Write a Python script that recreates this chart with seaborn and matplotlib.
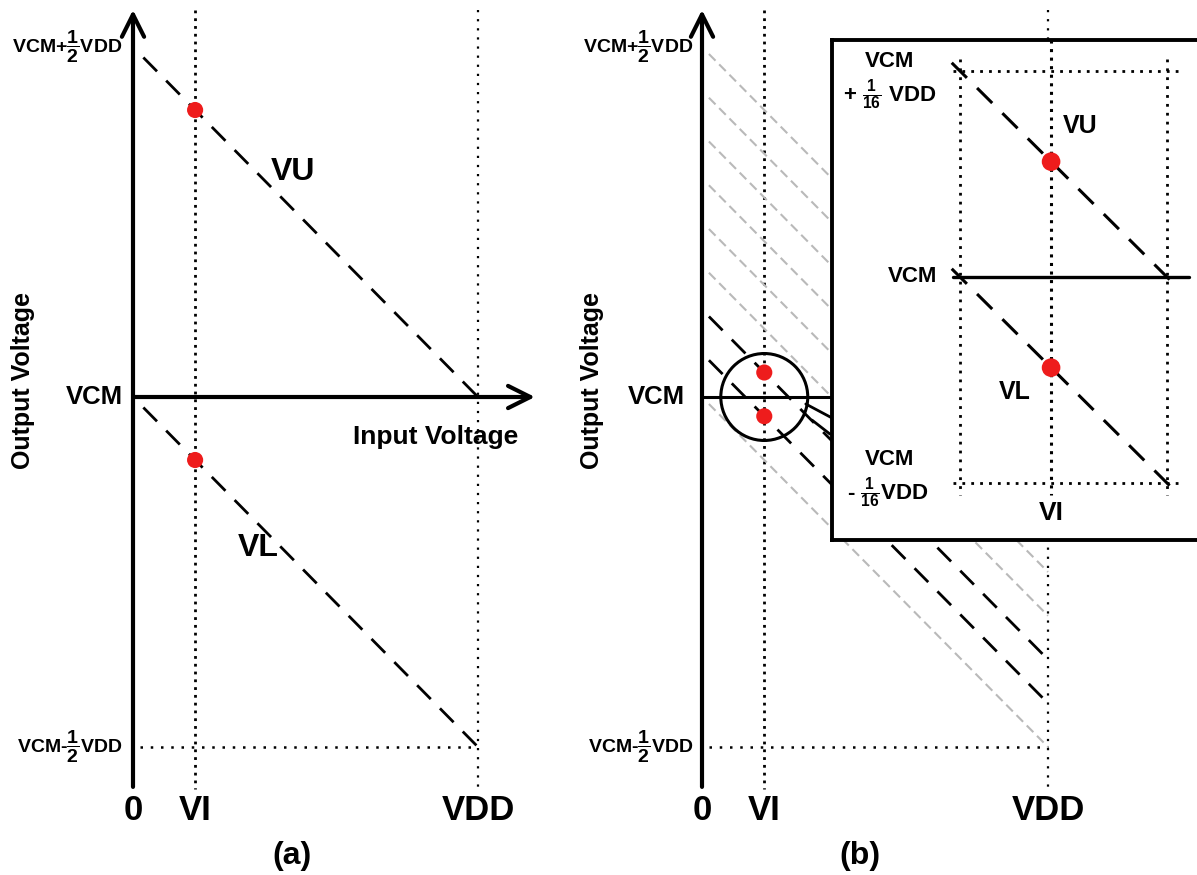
import matplotlib
matplotlib.use("Agg")
import matplotlib.pyplot as plt
import pandas as pd
import seaborn as sns

# output voltage is measured from VCM, both axes in units of VDD
VDD = 1.0
VI = 0.18
SLOPE = -0.5
HALF = 0.5

# panel (a): the two transfer lines
ab_names = ["VU", "VL"]
ab_offsets = [0.5, 0.0]

# panel (b): family of lines 1/16 VDD apart, two of them highlighted
grey_offsets = [0.5, 0.4375, 0.375, 0.3125, 0.25, 0.1875, 0.0]
zoom_offsets = [0.125, 0.0625]
zoom_names = ["VU", "VL"]

# zoomed window shown in the inset
zoom_x = [0.125, 0.25]
zoom_y = [-0.0625, 0.0625]

tick_pos = [0.0, VI, VDD]
tick_labels = ["0", "VI", "VDD"]

PX_W, PX_H = 1197, 875
VCM_PX, SY = 397, 700.0
RED = "#ee1c1c"
GREY = "#b9b9b9"
DOT_DENSE = (0, (1, 1.8))
DOT_SPARSE = (0, (1, 3.1))
DOT_BOX = (0, (1, 2.2))
DASH = (0, (7, 4.7))
DASH_GREY = (0, (4.5, 2.5))

sns.set_theme(style="white")
plt.rcParams["font.family"] = ["Liberation Sans", "DejaVu Sans"]
plt.rcParams["font.weight"] = "bold"
plt.rcParams["text.color"] = "black"
plt.rcParams["mathtext.fontset"] = "custom"
for k in ["rm", "it", "bf", "sf"]:
    plt.rcParams["mathtext." + k] = "Liberation Sans:bold"

fig = plt.figure(figsize=(PX_W / 100, PX_H / 100), dpi=100)


def line_frame(offsets, x0, x1):
    rows = []
    for i, off in enumerate(offsets):
        for x in (x0, x1):
            rows.append({"line": i, "x": x, "y": off + SLOPE * x})
    return pd.DataFrame(rows)


def panel_axes(left_px, right_px, x0_px, xvdd_px):
    ax = fig.add_axes([left_px / PX_W, 0, (right_px - left_px) / PX_W, 1])
    sx = xvdd_px - x0_px
    ax.set_xlim((left_px - x0_px) / sx, (right_px - x0_px) / sx)
    ax.set_ylim(-(PX_H - VCM_PX) / SY, VCM_PX / SY)
    ax.axis("off")
    return ax


def arrow(ax, start, end):
    ax.annotate("", xy=end, xytext=start,
                arrowprops=dict(arrowstyle="->", lw=3, color="black",
                                mutation_scale=40, shrinkA=0, shrinkB=0))


def common(ax, tag, tag_x, vcm_x, ylab_x, small_x):
    top, bottom = 0.553, -0.557
    arrow(ax, (0, bottom), (0, top))
    ax.plot([VI, VI], [top, -0.56], color="black", lw=2.0, linestyle=DOT_DENSE)
    ax.plot([VDD, VDD], [top, -0.56], color="black", lw=1.6, linestyle=DOT_SPARSE)
    ax.plot([0.02, VDD], [-HALF, -HALF], color="black", lw=1.8, linestyle=DOT_SPARSE)
    ax.text(small_x, HALF, r"VCM+$\dfrac{1}{2}$VDD", ha="right", va="center", fontsize=14)
    ax.text(small_x, -HALF, r"VCM-$\dfrac{1}{2}$VDD", ha="right", va="center", fontsize=14)
    ax.text(vcm_x, 0.0, "VCM", ha="right", va="center", fontsize=18.5)
    ax.text(ylab_x, 0.023, "Output Voltage", rotation=90, ha="center", va="center", fontsize=18)
    for x, lab in zip(tick_pos, tick_labels):
        ax.text(x, -0.59, lab, ha="center", va="center", fontsize=25)
    ax.text(tag_x, -0.656, tag, ha="center", va="center", fontsize=23)


# ---------------- panel (a)
ax_a = panel_axes(0, 598, 133, 478)
common(ax_a, "(a)", 0.46, -0.03, -0.32, -0.03)
arrow(ax_a, (0, 0), (1.165, 0))
sns.lineplot(data=line_frame(ab_offsets, 0.03, VDD), x="x", y="y", units="line",
             estimator=None, color="black", lw=2.0, linestyle=DASH, ax=ax_a,
             legend=False)
dots_a = pd.DataFrame({"x": [VI] * 2, "y": [o + SLOPE * VI for o in ab_offsets]})
sns.scatterplot(data=dots_a, x="x", y="y", s=135, color=RED, edgecolor="none",
                ax=ax_a, zorder=5, legend=False)
ax_a.text(0.464, 0.321, ab_names[0], ha="center", va="center", fontsize=23)
ax_a.text(0.362, -0.216, ab_names[1], ha="center", va="center", fontsize=23)
ax_a.text(0.878, -0.057, "Input Voltage", ha="center", va="center", fontsize=19)

# ---------------- panel (b)
ax_b = panel_axes(598, PX_W, 702, 1048)
common(ax_b, "(b)", 0.457, -0.05, -0.318, -0.026)
ax_b.plot([0, 0.4], [0, 0], color="black", lw=2.2)
sns.lineplot(data=line_frame(grey_offsets, 0.02, VDD), x="x", y="y", units="line",
             estimator=None, color=GREY, lw=1.5, linestyle=DASH_GREY, ax=ax_b,
             legend=False)
sns.lineplot(data=line_frame(zoom_offsets, 0.02, VDD), x="x", y="y", units="line",
             estimator=None, color="black", lw=2.0, linestyle=DASH, ax=ax_b,
             legend=False)
dots_b = pd.DataFrame({"x": [VI] * 2, "y": [o + SLOPE * VI for o in zoom_offsets]})
sns.scatterplot(data=dots_b, x="x", y="y", s=135, color=RED, edgecolor="none",
                ax=ax_b, zorder=5, legend=False)
ax_b.scatter([VI], [0.0], s=3920, facecolors="none", edgecolors="black",
             linewidths=2.2, zorder=6)
# connectors from the circle to the inset
ax_b.plot([0.300, 0.376], [-0.010, -0.030], color="black", lw=2.0)
ax_b.plot([0.318, 0.370], [-0.033, -0.053], color="black", lw=2.0)

# ---------------- inset
in_left, in_top, in_bottom, in_right = 832, 40, 540, 1215
wx0, wx1, wy_top, wy_bot = 960, 1167, 71, 483
sxi = (wx1 - wx0) / (zoom_x[1] - zoom_x[0])
syi = (wy_bot - wy_top) / (zoom_y[1] - zoom_y[0])
vcm_i = (wy_top + wy_bot) / 2
axi = fig.add_axes([in_left / PX_W, (PX_H - in_bottom) / PX_H,
                    (in_right - in_left) / PX_W, (in_bottom - in_top) / PX_H])
axi.set_zorder(10)
axi.set_facecolor("white")
axi.set_xlim(zoom_x[0] - (wx0 - in_left) / sxi, zoom_x[0] + (in_right - wx0) / sxi)
axi.set_ylim(-(in_bottom - vcm_i) / syi, (vcm_i - in_top) / syi)
axi.set_xticks([])
axi.set_yticks([])
for sp in axi.spines.values():
    sp.set_linewidth(2.8)
    sp.set_color("black")

ext = 0.0035
for y in zoom_y:
    axi.plot([zoom_x[0] - 0.004, zoom_x[1] + 0.008], [y, y], color="black", lw=2.0,
             linestyle=DOT_BOX)
for x in zoom_x:
    axi.plot([x, x], [zoom_y[1] + ext, zoom_y[0] - ext], color="black", lw=2.0,
             linestyle=DOT_BOX)
axi.plot([VI, VI], [axi.get_ylim()[1], zoom_y[0] - ext], color="black", lw=2.2,
         linestyle=DOT_DENSE)
axi.plot([zoom_x[0] - 0.004, zoom_x[1] + 0.013], [0, 0], color="black", lw=2.4)
sns.lineplot(data=line_frame(zoom_offsets, 0.12, 0.257), x="x", y="y", units="line",
             estimator=None, color="black", lw=2.2, linestyle=DASH, ax=axi,
             legend=False)
sns.scatterplot(data=dots_b, x="x", y="y", s=180, color=RED, edgecolor="none",
                ax=axi, zorder=5, legend=False)
axi.set_xlabel("")
axi.set_ylabel("")

axi.text(0.0827, 0.0655, "VCM", ha="center", va="center", fontsize=16)
axi.text(0.0827, 0.0555, r"+ $\frac{1}{16}$ VDD", ha="center", va="center", fontsize=16)
axi.text(0.1111, 0.0, "VCM", ha="right", va="center", fontsize=16)
axi.text(0.0827, -0.0555, "VCM", ha="center", va="center", fontsize=16)
axi.text(0.0815, -0.0655, r"- $\frac{1}{16}$VDD", ha="center", va="center", fontsize=16)
axi.text(0.1975, 0.0458, zoom_names[0], ha="center", va="center", fontsize=18)
axi.text(0.158, -0.0349, zoom_names[1], ha="center", va="center", fontsize=18)
axi.text(VI, -0.0716, "VI", ha="center", va="center", fontsize=19)

fig.savefig("out.png", dpi=100)
